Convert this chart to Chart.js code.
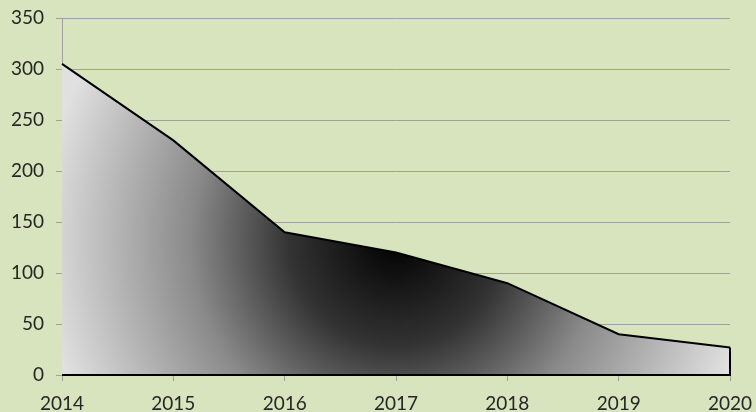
<!DOCTYPE html>
<html>
<head>
<meta charset="utf-8">
<script src="https://cdn.jsdelivr.net/npm/chart.js@4/dist/chart.umd.min.js"></script>
<style>
html,body{margin:0;padding:0;background:#d7e4bd;}
#wrap{width:756px;height:412px;position:relative;}
</style>
</head>
<body>
<div id="wrap"><canvas id="c" width="756" height="412"></canvas></div>
<script>
const years = ["2014","2015","2016","2017","2018","2019","2020"];
const values = [305, 230, 140, 120, 90, 40, 27];
const yTicks = [0, 50, 100, 150, 200, 250, 300, 350];

const bgPlugin = {
  id: 'bg',
  beforeDraw(chart) {
    const ctx = chart.ctx;
    ctx.save();
    ctx.fillStyle = '#d7e4bd';
    ctx.fillRect(0, 0, chart.width, chart.height);
    ctx.restore();
  }
};

function areaFill(context) {
  const chart = context.chart;
  const a = chart.chartArea;
  if (!a) return '#444';
  const cx = a.left + (a.right - a.left) * 0.5;
  const cy = a.top + (a.bottom - a.top) * 0.62;
  const g = chart.ctx.createRadialGradient(cx, cy, 0, cx, cy, 355);
  g.addColorStop(0, '#000000');
  g.addColorStop(0.3, '#333333');
  g.addColorStop(0.58, '#8a8a8a');
  g.addColorStop(1, '#e0e0e0');
  return g;
}

const borderPlugin = {
  id: 'areaBorder',
  afterDatasetsDraw(chart) {
    const meta = chart.getDatasetMeta(0);
    const ys = chart.scales.y;
    const ctx = chart.ctx;
    const pts = meta.data;
    const base = ys.getPixelForValue(0);
    ctx.save();
    ctx.strokeStyle = '#000';
    ctx.lineWidth = 2;
    ctx.beginPath();
    ctx.moveTo(pts[pts.length - 1].x, pts[pts.length - 1].y);
    ctx.lineTo(pts[pts.length - 1].x, base);
    ctx.lineTo(pts[0].x, base);
    ctx.stroke();
    ctx.restore();
  }
};

const tickFont = { family: 'Lato, "Open Sans", sans-serif', size: 19 };

new Chart(document.getElementById('c'), {
  type: 'line',
  data: {
    labels: years,
    datasets: [{
      data: values,
      fill: 'origin',
      backgroundColor: areaFill,
      borderColor: '#000',
      borderWidth: 2,
      pointRadius: 0,
      tension: 0
    }]
  },
  options: {
    responsive: false,
    animation: false,
    layout: { padding: 0 },
    plugins: { legend: { display: false }, tooltip: { enabled: false } },
    scales: {
      x: {
        offset: false,
        afterFit(s) { s.height = 37; s.paddingLeft = 0; s.paddingRight = 26; s.paddingTop = 0; s.paddingBottom = 0; },
        grid: { display: true, drawOnChartArea: false, color: '#a0a0a0', tickLength: 6 },
        border: { display: true, color: '#a0a0a0', width: 1 },
        ticks: { color: '#262626', font: tickFont, padding: 11, maxRotation: 0, autoSkip: false }
      },
      y: {
        min: 0, max: 350,
        afterBuildTicks(scale) { scale.ticks = yTicks.map(v => ({ value: v })); },
        afterFit(s) { s.width = 62; s.paddingTop = 18; s.paddingBottom = 0; s.paddingLeft = 0; s.paddingRight = 0; },
        grid: { color: '#a0a0a0', tickLength: 6, lineWidth: 1 },
        border: { display: true, color: '#a0a0a0', width: 1 },
        ticks: { color: '#262626', font: tickFont, padding: 12 }
      }
    }
  },
  plugins: [bgPlugin, borderPlugin]
});
</script>
</body>
</html>
